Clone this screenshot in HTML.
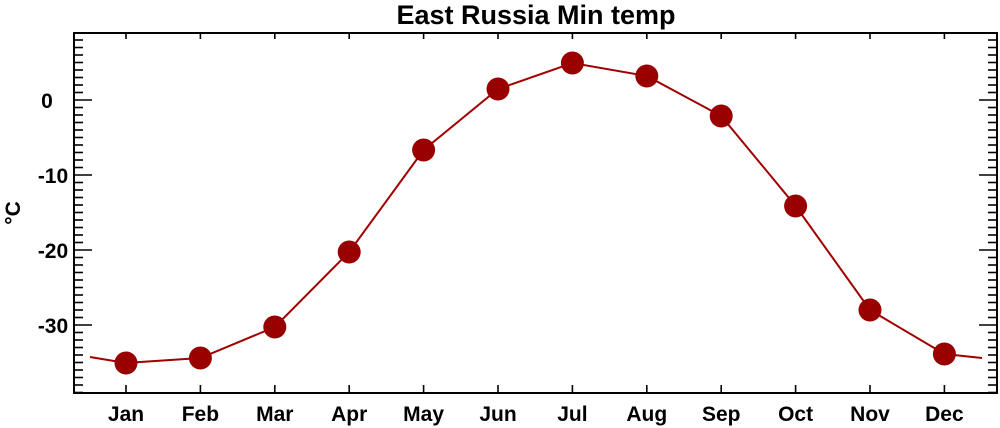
<!DOCTYPE html>
<html><head><meta charset="utf-8"><style>
html,body{margin:0;padding:0;background:#fff;}
svg{display:block;font-family:"Liberation Sans",Arial,sans-serif;font-weight:bold;}
</style></head><body>
<svg id="s" width="1000" height="428" viewBox="0 0 1000 428" xmlns="http://www.w3.org/2000/svg">
<text x="536" y="24" font-size="27" text-anchor="middle">East Russia Min temp</text>
<text transform="translate(20,213) rotate(-90)" font-size="21" text-anchor="middle">°C</text>
<rect x="74" y="33" width="923" height="360" fill="none" stroke="#000" stroke-width="2"/>
<g id="ticks" stroke="#000" stroke-width="1.6"></g>
<g id="labels" font-size="21" text-anchor="middle"></g>
<polyline id="line" fill="none" stroke="#a00000" stroke-width="2"/>
<g id="dots" fill="#990000"></g>
</svg>
<script>
var ns="http://www.w3.org/2000/svg";
function el(p,t,a,txt){var e=document.createElementNS(ns,t);for(var k in a)e.setAttribute(k,a[k]);if(txt!==undefined)e.textContent=txt;document.getElementById(p).appendChild(e);}
var L=74,R=997,T=33,B=393;
function Y(v){return 100-v*7.5;}
for(var v=-39;v<=8;v++){var y=Y(v);var maj=(v%10===0);var len=maj?18:9;
 el("ticks","line",{x1:L,y1:y,x2:L+len,y2:y});el("ticks","line",{x1:R,y1:y,x2:R-len,y2:y});
 if(maj)el("labels","text",{x:(v<0?53:47),y:y+8,"font-size":21,"text-anchor":"middle"},String(v));}
var m=["Jan","Feb","Mar","Apr","May","Jun","Jul","Aug","Sep","Oct","Nov","Dec"];
var ys=[363,358,327,252,150,89,63,76,116,206,310,354];
var pts=["90,357"];
for(var i=0;i<12;i++){var x=126+i*74.4;
 el("ticks","line",{x1:x,y1:B,x2:x,y2:B-8});el("ticks","line",{x1:x,y1:T,x2:x,y2:T+6});
 el("labels","text",{x:x,y:421},m[i]);pts.push(x+","+ys[i]);}
pts.push("982,358");
document.getElementById("line").setAttribute("points",pts.join(" "));
for(var i=0;i<12;i++)el("dots","circle",{cx:126+i*74.4,cy:ys[i],r:11.5});
</script>
</body></html>
